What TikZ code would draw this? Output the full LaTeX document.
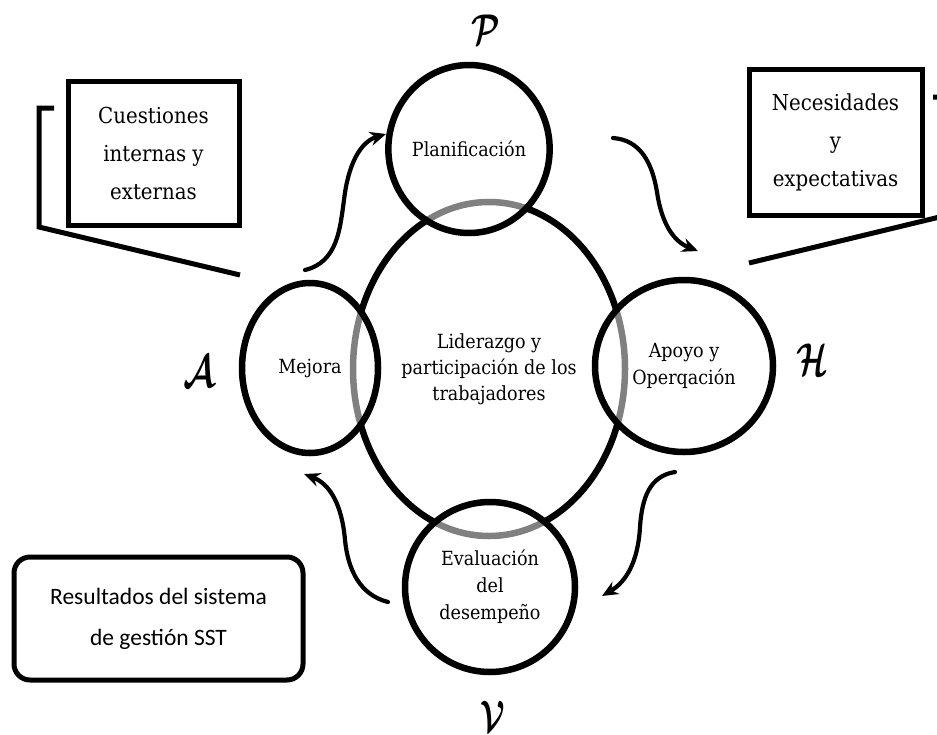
\documentclass[tikz,border=0pt]{standalone}
\usepackage{fontspec}
\usepackage{amsmath}
\usetikzlibrary{shapes.geometric,arrows.meta}
\newfontfamily\slab{DejaVu Serif Condensed}
\newfontfamily\calib{Carlito}
\begin{document}
\begin{tikzpicture}[x=1pt,y=-1pt,
  bigcirc/.style={ellipse, draw, line width=6.5pt, inner sep=0pt, align=center,
    font=\slab\fontsize{19.5}{26}\selectfont},
  smallcirc/.style={ellipse, draw, line width=6.5pt, inner sep=0pt, align=center,
    fill=white, fill opacity=0.5, text opacity=1, draw opacity=1,
    font=\slab\fontsize{19.5}{27}\selectfont},
  sqbox/.style={draw, line width=5pt, inner sep=0pt, align=center,
    font=\slab\fontsize{22}{38}\selectfont},
  rbox/.style={draw, line width=5pt, rounded corners=16pt, inner sep=0pt, align=center,
    font=\calib\fontsize{23.5}{41}\selectfont},
  letter/.style={inner sep=0pt},
  wave/.style={line width=4.2pt, line cap=round, -{Stealth[length=16pt,width=14pt]}},
  brk/.style={line width=5pt}]
\clip (0,0) rectangle (937,734);
\fill[white] (0,0) rectangle (937,734);

% central ellipse
\node[bigcirc, minimum width=272pt, minimum height=334pt] (lid) at (489,369)
  {Liderazgo y\\participación de los\\trabajadores};

% four phase circles
\node[smallcirc, minimum width=158pt, minimum height=168pt] (plan) at (469,149) {Planificación};
\node[smallcirc, minimum width=136pt, minimum height=170pt] (mej) at (310,368) {Mejora};
\node[smallcirc, minimum width=178pt, minimum height=172pt] (apo) at (684,366) {Apoyo y\\Operqación};
\node[smallcirc, minimum width=170pt, minimum height=170pt] (eva) at (490,587) {Evaluación\\del\\desempeño};

% PHVA letters
\node[letter] (lp) at (486,30) {\scalebox{3.2}[4.3]{$\boldsymbol{\mathcal{P}}$}};
\node[letter] (la) at (199,372) {\scalebox{3.4}[4.6]{$\boldsymbol{\mathcal{A}}$}};
\node[letter] (lh) at (812,360) {\scalebox{3.2}[4.6]{$\boldsymbol{\mathcal{H}}$}};
\node[letter] (lv) at (493,716) {\scalebox{3.0}[4.4]{$\boldsymbol{\mathcal{V}}$}};

% boxes
\node[sqbox, minimum width=171pt, minimum height=144pt] (cue) at (153.5,153)
  {Cuestiones\\internas y\\externas};
\node[sqbox, minimum width=173pt, minimum height=146pt] (nec) at (835.5,142)
  {Necesidades\\y\\expectativas};
\node[rbox, minimum width=289pt, minimum height=123pt] (res) at (158.5,618.5)
  {Resultados del sistema\\de gestión SST};

% brackets
\coordinate (b1a) at (54,108);
\coordinate (b1b) at (39,108);
\coordinate (b1c) at (39,227);
\coordinate (b1d) at (240,275);
\draw[brk] (b1a) -- (b1b) -- (b1c) -- (b1d);
\coordinate (b2a) at (933,97);
\coordinate (b2b) at (952,97);
\coordinate (b2c) at (952,214);
\coordinate (b2d) at (749,263);
\draw[brk] (b2a) -- (b2b) -- (b2c) -- (b2d);

% cycle arrows
\coordinate (w1s) at (305,270);
\coordinate (w1m) at (344,200);
\coordinate (w1e) at (386,134);
\draw[wave] (w1s) .. controls (338,262) and (340,228) .. (w1m)
  .. controls (348,165) and (360,142) .. (w1e);
\coordinate (w2s) at (613,138);
\coordinate (w2m) at (657,192);
\coordinate (w2e) at (698,251);
\draw[wave] (w2s) .. controls (640,140) and (652,162) .. (w2m)
  .. controls (662,226) and (675,242) .. (w2e);
\coordinate (w3s) at (675,472);
\coordinate (w3m) at (640,527);
\coordinate (w3e) at (602,596);
\draw[wave] (w3s) .. controls (650,476) and (642,497) .. (w3m)
  .. controls (638,562) and (626,582) .. (w3e);
\coordinate (w4s) at (388,602);
\coordinate (w4m) at (345,540);
\coordinate (w4e) at (304,474);
\draw[wave] (w4s) .. controls (360,595) and (348,570) .. (w4m)
  .. controls (342,505) and (330,484) .. (w4e);
\end{tikzpicture}
\end{document}
